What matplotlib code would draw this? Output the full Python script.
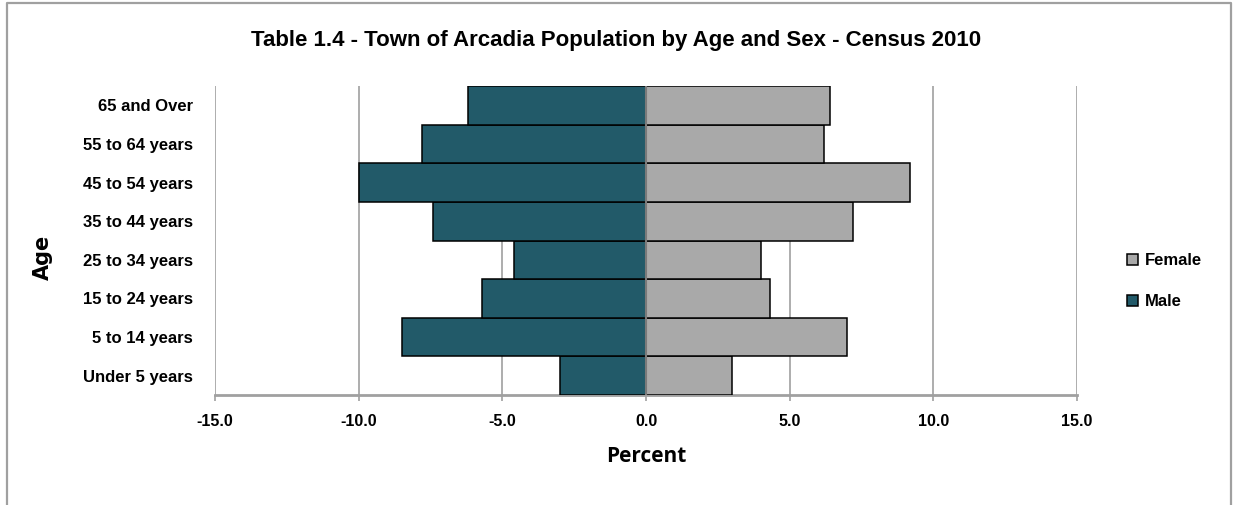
import matplotlib
matplotlib.use("Agg")
import matplotlib.pyplot as plt
from matplotlib.lines import Line2D

age_groups = ['Under 5 years', '5 to 14 years', '15 to 24 years', '25 to 34 years',
              '35 to 44 years', '45 to 54 years', '55 to 64 years', '65 and Over']
male = [-3.0, -8.5, -5.7, -4.6, -7.4, -10.0, -7.8, -6.2]
female = [3.0, 7.0, 4.3, 4.0, 7.2, 9.2, 6.2, 6.4]
xticks = [-15, -10, -5, 0, 5, 10, 15]

narrow = ['Liberation Sans Narrow', 'Liberation Sans', 'DejaVu Sans']

fig = plt.figure(figsize=(12.33, 5.05), dpi=100)
ax = fig.add_axes([0.1744, 0.2178, 0.6991, 0.6119])

# chart frame: left, top and right edges
fig.lines.append(Line2D([0.0055, 0.0055, 0.9985, 0.9985], [0.0, 0.994, 0.994, 0.0],
                        transform=fig.transFigure, color='#a0a0a0', linewidth=1.6))

ypos = range(len(age_groups))
ax.barh(ypos, female, height=1.0, color='#a9a9a9', edgecolor='black', linewidth=1.1,
        label='Female', zorder=3)
ax.barh(ypos, male, height=1.0, color='#225a69', edgecolor='black', linewidth=1.1,
        label='Male', zorder=3)

ax.set_xlim(-15, 15)
ax.set_ylim(-0.5, len(age_groups) - 0.5)

for x in xticks:
    ax.axvline(x, color='#a0a0a0', linewidth=1.2, zorder=1)
ax.axvline(0, color='#7a7a7a', linewidth=1.5, zorder=4)

for side in ['left', 'right', 'top']:
    ax.spines[side].set_visible(False)
ax.spines['bottom'].set_color('#a0a0a0')
ax.spines['bottom'].set_linewidth(2)

ax.set_xticks(xticks)
ax.set_xticklabels(['%.1f' % v for v in xticks], family=narrow, fontweight='bold', fontsize=11.5)
ax.tick_params(axis='x', length=4, color='#a0a0a0', width=1.2, pad=10)
ax.set_yticks(list(ypos))
ax.set_yticklabels(age_groups, family=narrow, fontweight='bold', fontsize=12)
ax.tick_params(axis='y', length=0, pad=16)

ax.set_xlabel('Percent', family=['Open Sans', 'DejaVu Sans'], fontweight='bold',
              fontsize=15, labelpad=12)
fig.text(0.035, 0.49, 'Age', rotation=90, ha='center', va='center',
         fontsize=15, fontweight='bold', family=['DejaVu Sans'])

fig.suptitle('Table 1.4 - Town of Arcadia Population by Age and Sex - Census 2010',
             x=0.5, y=0.94, family=narrow, fontweight='bold', fontsize=16)

leg = fig.legend(*ax.get_legend_handles_labels(), loc='center left',
                 bbox_to_anchor=(0.914, 0.443), frameon=False,
                 prop={'family': narrow, 'weight': 'bold', 'size': 12},
                 handlelength=0.65, handleheight=0.65, handletextpad=0.4, labelspacing=1.55,
                 borderpad=0, borderaxespad=0)

fig.savefig('out.png', dpi=100)
